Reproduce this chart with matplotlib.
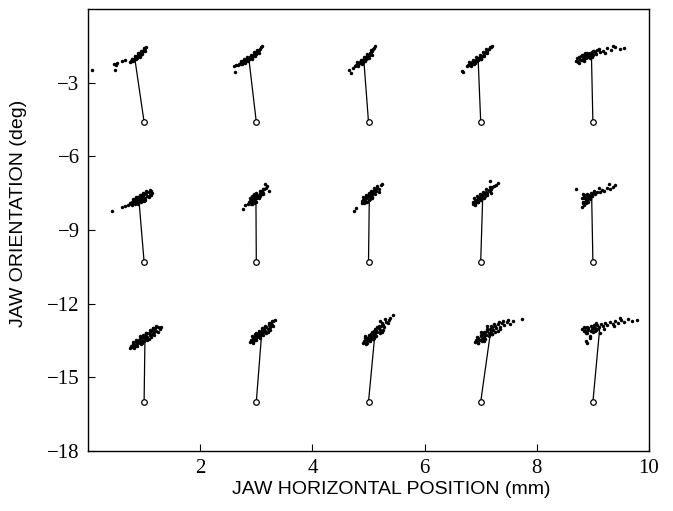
import matplotlib
matplotlib.use("Agg")
import matplotlib.pyplot as plt
import numpy as np

# target positions (circles)
target_x = [1, 3, 5, 7, 9]
target_y = [-4.6, -10.3, -16.0]

x_ticks = [2, 4, 6, 8, 10]
y_ticks = [-3, -6, -9, -12, -15, -18]

# ---- row 1 (top) ----
x_r1c1 = [0.74,0.76,0.78,0.79,0.80,0.81,0.82,0.83,0.84,0.85,0.86,0.87,0.88,0.88,0.89,0.90,0.91,0.92,0.92,0.93,0.94,0.95,0.96,0.97,0.98,0.99,1.00,1.02,1.03,
          0.80,0.86,0.92,0.97,1.01,0.78,0.84,0.90,0.95,0.99,
          0.47,0.50,0.52,0.60,0.66,0.49,0.07]
y_r1c1 = [-2.14,-2.10,-2.12,-2.05,-2.08,-2.06,-2.02,-1.98,-2.04,-1.95,-1.99,-1.90,-1.94,-1.98,-1.86,-1.90,-1.82,-1.86,-1.92,-1.78,-1.81,-1.74,-1.77,-1.70,-1.72,-1.65,-1.68,-1.60,-1.56,
          -2.12,-2.04,-1.94,-1.84,-1.72,-2.02,-1.92,-1.80,-1.70,-1.60,
          -2.22,-2.28,-2.20,-2.12,-2.09,-2.50,-2.47]

x_r1c2 = [2.68,2.70,2.72,2.73,2.75,2.76,2.78,2.79,2.81,2.82,2.84,2.85,2.87,2.88,2.90,2.91,2.93,2.94,2.96,2.97,2.99,3.00,3.02,3.04,3.06,3.08,3.10,2.86,2.92,
          2.74,2.80,2.86,2.92,2.98,3.04,2.72,2.78,2.84,2.90,2.96,3.02,
          2.60,2.62,2.64]
y_r1c2 = [-2.27,-2.22,-2.24,-2.17,-2.20,-2.13,-2.15,-2.08,-2.11,-2.04,-2.07,-2.00,-2.03,-1.95,-1.98,-1.91,-1.94,-1.86,-1.89,-1.82,-1.84,-1.76,-1.72,-1.66,-1.62,-1.56,-1.49,-2.08,-1.99,
          -2.26,-2.18,-2.10,-2.02,-1.92,-1.80,-2.12,-2.04,-1.94,-1.86,-1.76,-1.66,
          -2.33,-2.57,-2.30]

x_r1c3 = [4.76,4.78,4.79,4.81,4.82,4.84,4.85,4.86,4.88,4.89,4.90,4.92,4.93,4.94,4.96,4.97,4.98,5.00,5.01,5.03,5.04,5.06,5.08,5.10,5.12,4.91,4.95,4.99,
          4.82,4.88,4.94,5.00,5.06,4.80,4.86,4.92,4.98,5.04,
          4.66,4.68,4.72]
y_r1c3 = [-2.33,-2.28,-2.30,-2.22,-2.25,-2.17,-2.20,-2.12,-2.15,-2.07,-2.10,-2.02,-2.05,-1.97,-2.00,-1.92,-1.95,-1.86,-1.89,-1.80,-1.76,-1.70,-1.64,-1.58,-1.50,-2.14,-2.04,-1.98,
          -2.32,-2.22,-2.12,-2.00,-1.86,-2.16,-2.06,-1.94,-1.82,-1.68,
          -2.47,-2.61,-2.40]

x_r1c4 = [6.76,6.78,6.80,6.82,6.83,6.85,6.87,6.88,6.90,6.92,6.93,6.95,6.97,6.98,7.00,7.02,7.03,7.05,7.08,7.10,7.12,7.15,7.18,7.20,6.90,6.96,7.00,
          6.82,6.88,6.94,7.00,7.06,7.12,6.80,6.86,6.92,6.98,7.04,7.10,
          6.66,6.69,7.16]
y_r1c4 = [-2.33,-2.28,-2.30,-2.22,-2.25,-2.17,-2.20,-2.12,-2.14,-2.06,-2.09,-2.01,-2.04,-1.96,-1.98,-1.90,-1.93,-1.85,-1.80,-1.75,-1.70,-1.64,-1.56,-1.50,-2.18,-2.08,-2.02,
          -2.32,-2.22,-2.12,-2.04,-1.92,-1.80,-2.16,-2.06,-1.96,-1.86,-1.74,-1.64,
          -2.53,-2.57,-1.55]

x_r1c5 = [8.70,8.72,8.74,8.76,8.78,8.80,8.82,8.84,8.86,8.88,8.90,8.92,8.94,8.96,8.98,9.00,9.02,9.05,9.08,9.12,8.75,8.80,8.85,8.90,8.95,9.00,9.10,9.18,9.25,9.32,9.40,9.48,9.55,9.22,9.35,
          8.78,8.84,8.88,8.92,8.96,8.82,8.86,8.76,9.04,8.98]
y_r1c5 = [-2.10,-1.98,-2.15,-2.02,-1.92,-2.06,-1.95,-2.12,-1.88,-2.00,-1.85,-1.96,-1.80,-1.92,-1.76,-1.88,-1.72,-1.82,-1.68,-1.75,-2.20,-1.86,-2.05,-1.78,-2.00,-1.70,-1.62,-1.70,-1.58,-1.66,-1.55,-1.62,-1.60,-1.78,-1.50,
          -2.08,-1.98,-1.92,-1.88,-1.84,-1.86,-1.80,-1.94,-1.76,-1.94]

# ---- row 2 (middle) ----
x_r2c1 = [0.72,0.74,0.76,0.78,0.79,0.80,0.82,0.83,0.84,0.85,0.86,0.87,0.88,0.89,0.90,0.91,0.92,0.93,0.94,0.95,0.96,0.98,1.00,1.02,1.04,1.06,1.08,1.10,1.12,1.14,0.90,0.95,1.00,
          0.78,0.84,0.90,0.96,1.02,1.08,1.12,0.80,0.86,0.92,0.98,1.04,1.10,
          0.43,0.60,0.66]
y_r2c1 = [-7.98,-7.92,-7.95,-7.86,-7.96,-7.80,-7.88,-7.74,-7.90,-7.82,-7.70,-7.86,-7.76,-7.66,-7.84,-7.72,-7.62,-7.80,-7.68,-7.58,-7.74,-7.62,-7.54,-7.70,-7.50,-7.62,-7.46,-7.56,-7.42,-7.48,-7.94,-7.88,-7.80,
          -7.98,-7.96,-7.90,-7.82,-7.76,-7.66,-7.58,-7.72,-7.64,-7.56,-7.50,-7.42,-7.38,
          -8.21,-8.08,-8.02]

x_r2c2 = [2.86,2.87,2.88,2.89,2.90,2.91,2.92,2.93,2.94,2.95,2.96,2.97,2.98,2.99,3.00,3.02,3.04,3.06,3.08,3.10,3.12,3.14,3.17,3.19,2.92,2.96,3.00,3.05,
          2.90,2.94,2.98,3.02,3.06,3.12,2.88,2.92,2.96,3.00,3.06,3.12,
          2.77,2.79,3.23,3.16]
y_r2c2 = [-7.96,-7.88,-7.92,-7.80,-7.86,-7.74,-7.82,-7.70,-7.78,-7.66,-7.74,-7.62,-7.70,-7.60,-7.66,-7.56,-7.62,-7.50,-7.54,-7.42,-7.48,-7.34,-7.28,-7.22,-7.96,-7.90,-7.84,-7.70,
          -7.96,-7.88,-7.80,-7.70,-7.60,-7.52,-7.70,-7.62,-7.54,-7.48,-7.40,-7.32,
          -8.14,-8.00,-7.40,-7.12]

x_r2c3 = [4.88,4.89,4.90,4.91,4.92,4.93,4.94,4.95,4.96,4.97,4.98,5.00,5.01,5.02,5.04,5.05,5.07,5.08,5.10,5.12,5.14,5.16,5.19,5.22,5.24,4.95,5.00,5.06,
          4.92,4.97,5.02,5.07,5.12,5.18,4.90,4.95,5.00,5.05,5.10,5.16,
          4.74,4.77]
y_r2c3 = [-7.90,-7.82,-7.86,-7.76,-7.80,-7.70,-7.76,-7.64,-7.70,-7.60,-7.66,-7.56,-7.62,-7.52,-7.56,-7.46,-7.52,-7.42,-7.46,-7.36,-7.40,-7.28,-7.32,-7.18,-7.14,-7.86,-7.76,-7.68,
          -7.92,-7.84,-7.74,-7.64,-7.54,-7.44,-7.66,-7.58,-7.48,-7.40,-7.30,-7.22,
          -8.21,-8.10]

x_r2c4 = [6.86,6.87,6.88,6.90,6.91,6.92,6.94,6.95,6.96,6.98,6.99,7.00,7.02,7.03,7.05,7.06,7.08,7.10,7.12,7.14,7.16,7.18,7.21,7.24,6.90,6.95,7.00,7.08,
          6.90,6.96,7.01,7.06,7.12,7.18,6.88,6.94,6.99,7.04,7.10,7.16,
          7.31,7.17,7.27]
y_r2c4 = [-7.96,-7.88,-7.92,-7.82,-7.86,-7.76,-7.80,-7.70,-7.74,-7.64,-7.70,-7.60,-7.66,-7.56,-7.60,-7.50,-7.54,-7.44,-7.48,-7.38,-7.42,-7.32,-7.26,-7.20,-7.94,-7.84,-7.74,-7.62,
          -7.98,-7.88,-7.78,-7.68,-7.58,-7.48,-7.70,-7.62,-7.52,-7.44,-7.34,-7.26,
          -7.10,-7.02,-7.18]

x_r2c5 = [8.80,8.82,8.84,8.86,8.88,8.90,8.92,8.94,8.81,8.85,8.89,8.93,8.97,9.00,9.04,9.08,9.12,9.16,9.20,9.25,9.30,9.35,9.40,8.83,8.87,8.91,8.95,9.02,9.10,9.28,8.70,
          8.84,8.88,8.92,8.86,8.90,8.96,8.82,8.98]
y_r2c5 = [-8.05,-7.92,-7.98,-7.84,-7.90,-7.78,-7.86,-7.72,-7.70,-7.62,-7.68,-7.56,-7.60,-7.50,-7.52,-7.44,-7.46,-7.38,-7.40,-7.30,-7.34,-7.24,-7.18,-7.52,-7.80,-7.64,-7.70,-7.42,-7.30,-7.12,-7.33,
          -7.70,-7.74,-7.66,-7.58,-7.52,-7.48,-7.86,-7.62]

# ---- row 3 (bottom) ----
x_r3c1 = [0.75,0.77,0.79,0.81,0.83,0.85,0.86,0.88,0.90,0.91,0.93,0.94,0.96,0.98,0.99,1.01,1.02,1.04,1.06,1.08,1.10,1.12,1.14,1.16,1.18,1.20,1.22,1.25,1.28,1.31,0.92,0.97,1.03,1.09,1.15,
          0.82,0.88,0.94,1.00,1.06,1.12,1.18,1.24,0.80,0.86,0.92,0.98,1.04,1.10,1.16,1.22]
y_r3c1 = [-13.80,-13.74,-13.78,-13.66,-13.72,-13.58,-13.68,-13.52,-13.62,-13.46,-13.56,-13.40,-13.50,-13.36,-13.46,-13.30,-13.40,-13.24,-13.34,-13.18,-13.28,-13.12,-13.22,-13.06,-13.16,-13.00,-13.10,-12.96,-13.04,-12.94,-13.30,-13.60,-13.18,-13.42,-12.98,
          -13.80,-13.72,-13.64,-13.54,-13.46,-13.36,-13.26,-13.16,-13.56,-13.46,-13.38,-13.28,-13.18,-13.08,-12.98,-12.90]

x_r3c2 = [2.89,2.91,2.93,2.95,2.96,2.98,2.99,3.01,3.02,3.04,3.05,3.07,3.08,3.10,3.12,3.14,3.16,3.18,3.20,3.22,3.24,3.26,3.28,3.30,3.33,2.95,3.00,3.06,3.12,3.20,
          2.94,3.00,3.06,3.12,3.18,3.24,3.30,2.92,2.98,3.04,3.10,3.16,3.22,3.28]
y_r3c2 = [-13.56,-13.46,-13.52,-13.38,-13.46,-13.32,-13.40,-13.26,-13.34,-13.20,-13.28,-13.14,-13.22,-13.08,-13.16,-13.04,-13.10,-12.96,-13.04,-12.88,-12.96,-12.80,-12.86,-12.72,-12.66,-13.60,-13.18,-13.30,-12.98,-13.14,
          -13.58,-13.48,-13.38,-13.28,-13.18,-13.06,-12.92,-13.32,-13.22,-13.12,-13.00,-12.90,-12.80,-12.70]

x_r3c3 = [4.90,4.92,4.93,4.95,4.96,4.98,4.99,5.01,5.02,5.04,5.05,5.07,5.08,5.10,5.12,5.14,5.16,5.18,5.20,5.22,5.25,5.28,5.31,5.34,5.38,5.43,4.94,4.98,5.03,5.09,5.15,5.24,5.30,5.20,
          4.96,5.02,5.08,5.14,5.20,5.26,4.94,5.00,5.06,5.12,5.18,5.24,5.36]
y_r3c3 = [-13.62,-13.52,-13.58,-13.44,-13.54,-13.38,-13.48,-13.30,-13.40,-13.24,-13.34,-13.18,-13.28,-13.12,-13.20,-13.06,-13.14,-12.98,-13.08,-12.92,-12.86,-12.94,-12.74,-12.80,-12.58,-12.46,-13.30,-13.60,-13.46,-13.40,-12.96,-13.14,-12.62,-12.72,
          -13.64,-13.54,-13.44,-13.32,-13.20,-13.06,-13.40,-13.28,-13.16,-13.04,-12.90,-12.78,-12.66]

x_r3c4 = [6.90,6.92,6.94,6.96,6.98,7.00,7.02,7.04,7.06,7.08,7.10,7.12,7.14,7.16,7.18,7.20,7.22,7.25,7.28,7.31,7.34,7.38,7.42,7.46,7.52,7.58,7.73,6.95,7.00,7.05,7.12,7.20,7.30,7.40,
          6.96,7.02,7.08,7.14,7.20,7.26,7.34,6.94,7.00,7.06,7.12,7.18,7.24,7.32,7.48]
y_r3c4 = [-13.58,-13.48,-13.54,-13.40,-13.46,-13.32,-13.42,-13.24,-13.34,-13.16,-13.26,-13.10,-13.20,-13.04,-13.12,-12.96,-13.06,-12.92,-13.00,-12.84,-12.94,-12.80,-12.88,-12.74,-12.82,-12.70,-12.64,-13.62,-13.16,-13.50,-12.92,-13.22,-13.12,-12.72,
          -13.60,-13.52,-13.42,-13.32,-13.24,-13.14,-13.04,-13.36,-13.26,-13.14,-13.02,-12.92,-12.84,-12.76,-12.66]

x_r3c5 = [8.80,8.84,8.86,8.88,8.90,8.92,8.94,8.96,8.98,9.00,9.02,9.04,9.06,9.08,9.10,9.14,9.18,9.22,9.26,9.30,9.35,9.40,9.45,9.50,9.56,9.62,9.70,9.78,8.88,8.90,8.95,9.05,9.12,9.20,9.38,9.48,
          8.86,8.92,8.96,9.00,9.04,8.90,8.84,9.08]
y_r3c5 = [-13.04,-12.96,-13.10,-13.20,-12.94,-13.08,-13.30,-12.90,-13.02,-13.14,-12.86,-12.98,-13.06,-12.88,-12.96,-12.84,-12.92,-12.78,-12.86,-12.74,-12.82,-12.70,-12.78,-12.66,-12.74,-12.64,-12.70,-12.68,-13.50,-13.60,-13.40,-12.80,-13.18,-13.04,-12.90,-12.58,
          -13.00,-12.98,-13.12,-12.98,-13.10,-13.20,-13.12,-13.02]

clusters = [
    [(x_r1c1, y_r1c1), (x_r1c2, y_r1c2), (x_r1c3, y_r1c3), (x_r1c4, y_r1c4), (x_r1c5, y_r1c5)],
    [(x_r2c1, y_r2c1), (x_r2c2, y_r2c2), (x_r2c3, y_r2c3), (x_r2c4, y_r2c4), (x_r2c5, y_r2c5)],
    [(x_r3c1, y_r3c1), (x_r3c2, y_r3c2), (x_r3c3, y_r3c3), (x_r3c4, y_r3c4), (x_r3c5, y_r3c5)],
]

fig = plt.figure(figsize=(6.73, 5.11), dpi=100)
ax = fig.add_axes([88/673, 1-451/511, (649-88)/673, (451-9)/511])

for r, row in enumerate(clusters):
    for c, (xs, ys) in enumerate(row):
        tx, ty = target_x[c], target_y[r]
        mx, my = np.mean(xs), np.mean(ys)
        ax.plot([tx, mx], [ty, my], color='black', lw=0.9, zorder=2)
        ax.plot(xs, ys, linestyle='none', marker='o', ms=2.5, mew=0,
                color='black', zorder=3)
        ax.plot([tx], [ty], linestyle='none', marker='o', ms=4.0, mfc='white',
                mec='black', mew=0.9, zorder=4)

ax.set_xlim(0, 10)
ax.set_ylim(-18, 0)
ax.set_xticks(x_ticks)
ax.set_yticks(y_ticks)
ax.set_xticklabels([str(v) for v in x_ticks])
ax.set_yticklabels(['\u2212' + str(abs(v)) for v in y_ticks])
ax.tick_params(direction='in', length=5, width=0.8, top=False, right=False,
               labelsize=15, pad=6)
for lab in ax.get_xticklabels() + ax.get_yticklabels():
    lab.set_fontfamily('Liberation Serif')
for sp in ax.spines.values():
    sp.set_linewidth(1.0)

fig.text(391/673, 1-490/511, 'JAW HORIZONTAL POSITION (mm)', ha='center',
         va='center', fontsize=14, fontfamily='Liberation Sans')
fig.text(19/673, 1-213/511, 'JAW ORIENTATION (deg)', ha='center', va='center',
         rotation=90, fontsize=14, fontfamily='Liberation Sans')

fig.savefig('out.png', dpi=100)
